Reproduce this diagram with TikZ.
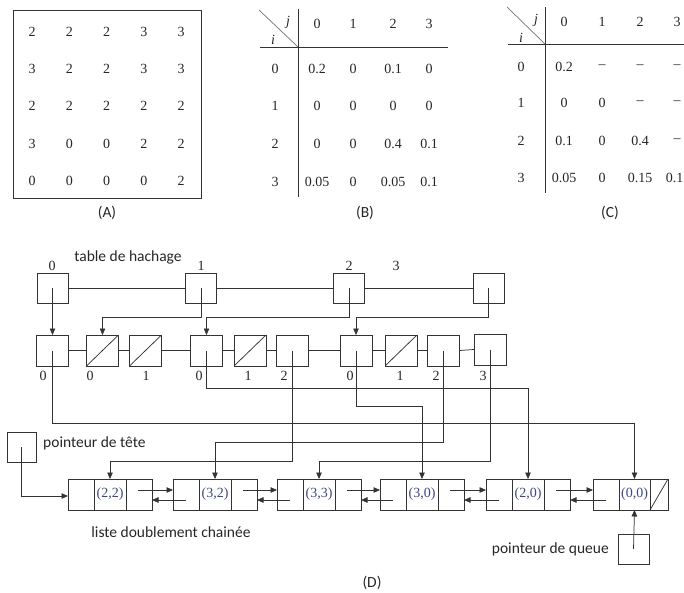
\documentclass[tikz,border=0pt]{standalone}
\usepackage{fontspec}
\setmainfont{Liberation Serif}
\newfontfamily\calfont{Carlito}
\usetikzlibrary{arrows.meta,calc}
\begin{document}
\begin{tikzpicture}[x=1pt,y=-1pt,
  ln/.style={draw=black!80, line width=0.75pt},
  arr/.style={ln, -{Triangle[length=6.5pt,width=5.5pt]}},
  hbox/.style={draw=black!80, line width=0.75pt, minimum width=31pt, minimum height=30pt, inner sep=0pt, outer sep=0pt},
  rbox/.style={hbox, minimum width=32pt, minimum height=31pt},
  sbox/.style={rbox, path picture={\draw[black!80,line width=0.75pt] (path picture bounding box.south west) -- (path picture bounding box.north east);}},
  num/.style={font=\fontsize{14}{16}\selectfont, inner sep=0pt, text=black!85},
  lab/.style={font=\calfont\fontsize{15.5}{18}\selectfont, inner sep=0pt, text=black!85},
  key/.style={font=\fontsize{14}{16}\selectfont, text={rgb,255:red,60;green,70;blue,130}},
  cell/.style={draw=black!80, line width=0.75pt, minimum height=31pt, inner sep=0pt, outer sep=0pt, anchor=west},
]
\useasboundingbox (0,0) rectangle (684,593);

% ---------- (A) ----------
\draw[ln] (13,10) rectangle (201,198);
\foreach \r/\vals in {32/{2,2,2,3,3}, 69/{3,2,2,3,3}, 106/{2,2,2,2,2}, 144/{3,0,0,2,2}, 181/{0,0,0,0,2}}{
  \foreach \v [count=\c] in \vals {
    \node[num] (a-\r-\c) at ({32+(\c-1)*37.25},\r) {\v};
  }
}
\node[lab] (labA) at (107,213) {(A)};

% ---------- (B) ----------
\draw[ln] (298,9) -- (298,197);
\draw[ln] (260,47) -- (448,47);
\draw[draw=black!55, line width=0.7pt] (259,10) -- (298,47);
\node[num, font=\itshape\fontsize{14}{16}\selectfont] (bj) at (288,22) {j};
\node[num, font=\itshape\fontsize{14}{16}\selectfont] (bi) at (273,40) {i};
\foreach \x/\t in {317/0, 353/1, 393/2, 429/3} \node[num] (bh\t) at (\x,24) {\t};
\foreach \y/\t in {69/0, 106/1, 144/2, 182/3} \node[num] (br\t) at (275,\y) {\t};
\node[num] at (317,69) {0.2};  \node[num] at (353,69) {0};  \node[num] at (393,69) {0.1};  \node[num] at (429,69) {0};
\node[num] at (317,106) {0};   \node[num] at (353,106) {0}; \node[num] at (393,106) {0};   \node[num] at (429,106) {0};
\node[num] at (317,144) {0};   \node[num] at (353,144) {0}; \node[num] at (393,144) {0.4}; \node[num] at (429,144) {0.1};
\node[num] at (317,182) {0.05};\node[num] at (353,182) {0}; \node[num] at (393,182) {0.05};\node[num] at (429,182) {0.1};
\node[lab] (labB) at (365,213) {(B)};

% ---------- (C) ----------
\draw[ln] (545,7) -- (545,193);
\draw[ln] (508,44) -- (690,44);
\draw[draw=black!55, line width=0.7pt] (507,7) -- (545,44);
\node[num, font=\itshape\fontsize{14}{16}\selectfont] (cj) at (536,20) {j};
\node[num, font=\itshape\fontsize{14}{16}\selectfont] (ci) at (521,38) {i};
\foreach \x/\t in {564/0, 602/1, 640/2, 677/3} \node[num] (ch\t) at (\x,22) {\t};
\foreach \y/\t in {67/0, 103/1, 141/2, 178/3} \node[num] (cr\t) at (521,\y) {\t};
\node[num] at (564,67) {0.2};  \node[num] at (602,67) {--};  \node[num] at (640,67) {--};  \node[num] at (677,67) {--};
\node[num] at (564,103) {0};   \node[num] at (602,103) {0};  \node[num] at (640,103) {--};  \node[num] at (677,103) {--};
\node[num] at (564,141) {0.1}; \node[num] at (602,141) {0};  \node[num] at (640,141) {0.4}; \node[num] at (677,141) {--};
\node[num] at (564,178) {0.05};\node[num] at (602,178) {0};  \node[num] at (640,178) {0.15};\node[num] at (674.5,178) {0.1};
\node[lab] (labC) at (610,213) {(C)};

% ---------- (D) hash table ----------
\node[lab] (th) at (128,257) {table de hachage};
\node[hbox] (h0) at (52.5,288) {};
\node[hbox] (h1) at (201,288) {};
\node[hbox] (h2) at (349,288) {};
\node[hbox] (h3) at (488.5,288) {};
\node[num] (hl0) at (52,266) {0};
\node[num] (hl1) at (201,266) {1};
\node[num] (hl2) at (349,266) {2};
\node[num] (hl3) at (396,266) {3};
\draw[ln] (h0.east) -- (h1.west);
\draw[ln] (h1.east) -- (h2.west);
\draw[ln] (h2.east) -- (h3.west);

% second row
\node[rbox] (b0) at (52.5,350.5) {};
\node[sbox] (b1) at (102.5,350.5) {};
\node[sbox] (b2) at (145.5,350.5) {};
\node[rbox] (b3) at (206.5,350.5) {};
\node[sbox] (b4) at (250,350.5) {};
\node[rbox] (b5) at (292,350.5) {};
\node[rbox] (b6) at (356,350.5) {};
\node[sbox] (b7) at (401,350.5) {};
\node[rbox] (b8) at (443.5,350.5) {};
\node[rbox] (b9) at (490,349.5) {};
\foreach \a/\b in {b0/b1,b1/b2,b2/b3,b3/b4,b4/b5,b5/b6,b6/b7,b7/b8,b8/b9}
  \draw[ln] (\a.east) -- (\b.west);
\foreach \x/\t [count=\k] in {43/0, 90/0, 146/1, 199/0, 248/1, 284/2, 350/0, 400/1, 436/2, 483/3}
  \node[num] (bl\k) at (\x,376) {\t};

% hash -> buckets
\draw[arr] (h0.center) -- (b0.north);
\draw[arr] (h1.center) |- (b1.north |- 0,317) -- (b1.north);
\draw[arr] (h2.center) |- (b3.north |- 0,317) -- (b3.north);
\draw[arr] (h3.center) |- (b6.north |- 0,317) -- (b6.north);

% ---------- doubly linked list ----------
\node[cell, minimum width=26pt] (L1a) at (68,494.5) {};
\node[cell, minimum width=32pt, key] (L1b) at (L1a.east) {(2,2)};
\node[cell, minimum width=26pt] (L1c) at (L1b.east) {};
\node[cell, minimum width=26pt] (L2a) at (173,494.5) {};
\node[cell, minimum width=32pt, key] (L2b) at (L2a.east) {(3,2)};
\node[cell, minimum width=26pt] (L2c) at (L2b.east) {};
\node[cell, minimum width=26pt] (L3a) at (277,494.5) {};
\node[cell, minimum width=32pt, key] (L3b) at (L3a.east) {(3,3)};
\node[cell, minimum width=26pt] (L3c) at (L3b.east) {};
\node[cell, minimum width=26pt] (L4a) at (380,494.5) {};
\node[cell, minimum width=32pt, key] (L4b) at (L4a.east) {(3,0)};
\node[cell, minimum width=26pt] (L4c) at (L4b.east) {};
\node[cell, minimum width=26pt] (L5a) at (486,494.5) {};
\node[cell, minimum width=32pt, key] (L5b) at (L5a.east) {(2,0)};
\node[cell, minimum width=26pt] (L5c) at (L5b.east) {};
\node[cell, minimum width=26pt] (L6a) at (593,494.5) {};
\node[cell, minimum width=31pt, key] (L6b) at (L6a.east) {(0,0)};
\node[cell, minimum width=18pt] (L6c) at (L6b.east) {};
\draw[ln] (L6c.south west) -- (L6c.north east);

\foreach \p/\q in {L1/L2, L2/L3, L3/L4, L4/L5, L5/L6}{
  \draw[arr] ([xshift=-14pt,yshift=4.5pt]\p c.east) -- ([yshift=4.5pt]\q a.west);
  \draw[arr] ([xshift=13pt,yshift=-5.5pt]\q a.west) -- ([yshift=-5.5pt]\p c.east);
}

% buckets -> list
\draw[arr] (b3.center) |- (L5b.north |- 0,388) -- (L5b.north);
\draw[arr] (b6.center) |- (L4b.north |- 0,406) -- (L4b.north);
\draw[arr] (b0.center) |- (L6b.north |- 0,423) -- (L6b.north);
\draw[arr] (b8.center) |- (L2b.north |- 0,442) -- (L2b.north);
\draw[arr] (b5.center) |- (L1b.north |- 0,461) -- (L1b.north);
\draw[arr] (b9.center) |- (L3b.north |- 0,461) -- (L3b.north);

% head / tail pointers
\node[hbox, minimum width=29pt] (hp) at (21.5,447) {};
\node[lab, anchor=west] (hpl) at (43,443) {pointeur de t\^ete};
\draw[arr] (hp.center) |- ([yshift=-1.5pt]L1a.west);
\node[hbox] (tp) at (633.5,549) {};
\node[lab, anchor=east] (tpl) at (609,549) {pointeur de queue};
\draw[arr] (tp.center) -- (L6b.south);
\node[lab] (ldc) at (171,532) {liste doublement chain\'ee};
\node[lab] (labD) at (372,583) {(D)};
\end{tikzpicture}
\end{document}
